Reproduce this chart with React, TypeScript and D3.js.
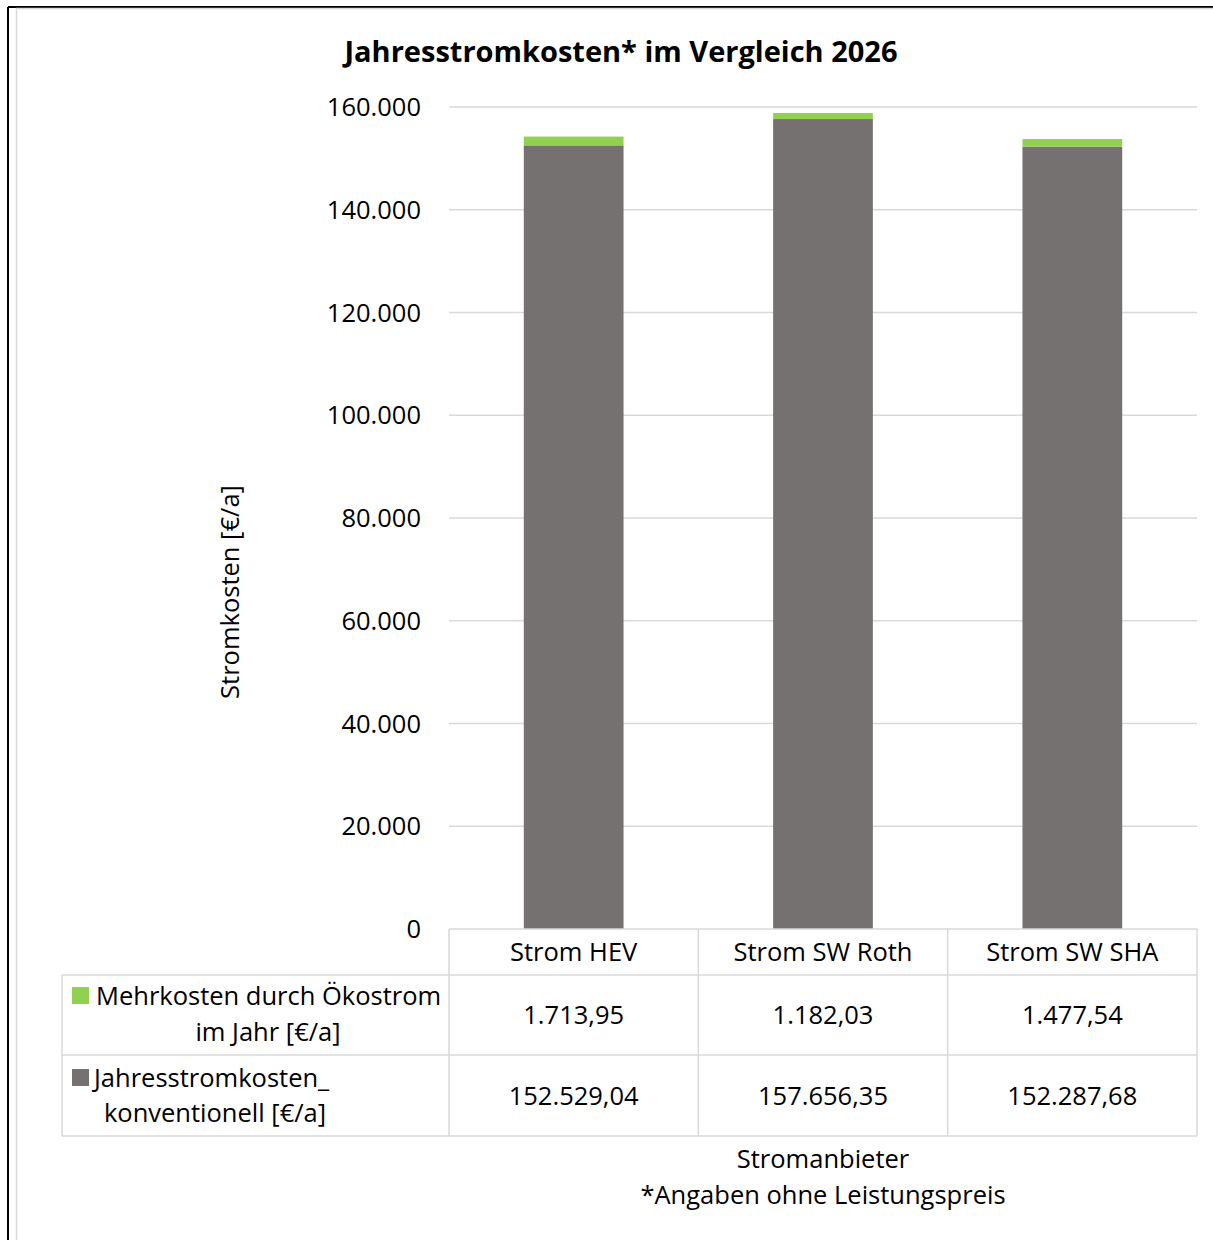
import React from "react";
import * as d3 from "d3";

const categories = ["Strom HEV", "Strom SW Roth", "Strom SW SHA"];
const seriesNames = ["Mehrkosten durch Ökostrom im Jahr [€/a]", "Jahresstromkosten_ konventionell [€/a]"];
const konventionell = [152529.04, 157656.35, 152287.68];
const mehrkosten = [1713.95, 1182.03, 1477.54];
const yTicks = [0, 20000, 40000, 60000, 80000, 100000, 120000, 140000, 160000];

const GREEN = "#92d050";
const GREY = "#767171";
const GRID = "#d9d9d9";
const FONT = "'Open Sans', 'Noto Sans', sans-serif";

const fmtTick = (v: number) => v.toLocaleString("de-DE");
const fmtVal = (v: number) =>
  v.toLocaleString("de-DE", { minimumFractionDigits: 2, maximumFractionDigits: 2 });

export default function App() {
  const W = 1213;
  const H = 1240;
  const x0 = 449, x1 = 1197;
  const yTop = 107, yBot = 929;
  const x = d3.scaleBand<string>().domain(categories).range([x0, x1]).paddingInner(0.6).paddingOuter(0.3);
  const band = d3.scaleBand<string>().domain(categories).range([x0, x1]);
  const y = d3.scaleLinear().domain([0, 160000]).range([yBot, yTop]);

  const rowTops = [929, 975, 1055, 1136];
  const legendX = 62;
  const fs = 25.5;

  return (
    <svg width={W} height={H} style={{ position: "absolute", left: 0, top: 0 }} fontFamily={FONT}>
      <rect x={0} y={0} width={W} height={H} fill="#fff" />
      {/* frames */}
      <line x1={8} y1={7} x2={W} y2={7} stroke="#000" strokeWidth={2} />
      <line x1={8} y1={7} x2={8} y2={H} stroke="#000" strokeWidth={2} />
      <rect x={16.5} y={8.5} width={W} height={H} fill="none" stroke={GRID} strokeWidth={1.5} />

      <text x={621} y={62} textAnchor="middle" fontSize={29} fontWeight="bold" fill="#000">
        Jahresstromkosten* im Vergleich 2026
      </text>

      {/* grid */}
      {yTicks.map((t) => (
        <g key={t}>
          {t > 0 && <line x1={x0} x2={x1} y1={y(t)} y2={y(t)} stroke={GRID} strokeWidth={1.5} />}
          <text x={421} y={y(t) + 9} textAnchor="end" fontSize={fs} fill="#000">
            {fmtTick(t)}
          </text>
        </g>
      ))}

      {/* bars */}
      {categories.map((c, i) => (
        <g key={c}>
          <rect x={x(c)} width={x.bandwidth()} y={y(konventionell[i])} height={y(0) - y(konventionell[i])} fill={GREY} />
          <rect
            x={x(c)}
            width={x.bandwidth()}
            y={y(konventionell[i] + mehrkosten[i])}
            height={y(konventionell[i]) - y(konventionell[i] + mehrkosten[i])}
            fill={GREEN}
          />
        </g>
      ))}

      {/* table */}
      <g stroke={GRID} strokeWidth={1.5} fill="none">
        <line x1={x0} x2={x1} y1={rowTops[0]} y2={rowTops[0]} />
        <line x1={legendX} x2={x1} y1={rowTops[1]} y2={rowTops[1]} />
        <line x1={legendX} x2={x1} y1={rowTops[2]} y2={rowTops[2]} />
        <line x1={legendX} x2={x1} y1={rowTops[3]} y2={rowTops[3]} />
        <line x1={legendX} x2={legendX} y1={rowTops[1]} y2={rowTops[3]} />
        {[...categories.map((c) => band(c) as number), x1].map((xx, i) => (
          <line key={i} x1={xx} x2={xx} y1={rowTops[0]} y2={rowTops[3]} />
        ))}
      </g>
      {categories.map((c, i) => {
        const cx = (band(c) as number) + band.bandwidth() / 2;
        return (
          <g key={c} fontSize={fs} textAnchor="middle" fill="#000">
            <text x={cx} y={961}>{c}</text>
            <text x={cx} y={1024}>{fmtVal(mehrkosten[i])}</text>
            <text x={cx} y={1105}>{fmtVal(konventionell[i])}</text>
          </g>
        );
      })}

      {/* legend cells */}
      <rect x={72} y={987} width={17} height={17} fill={GREEN} />
      <text x={96} y={1005} fontSize={fs} fill="#000">Mehrkosten durch Ökostrom</text>
      <text x={268} y={1041} fontSize={fs} fill="#000" textAnchor="middle">im Jahr [€/a]</text>
      <rect x={72} y={1069} width={17} height={17} fill={GREY} />
      <text x={94} y={1087} fontSize={fs} fill="#000">Jahresstromkosten_</text>
      <text x={215} y={1122} fontSize={fs} fill="#000" textAnchor="middle">konventionell [€/a]</text>

      {/* axis titles */}
      <text transform={`translate(239,592) rotate(-90)`} textAnchor="middle" fontSize={fs} fill="#000">
        Stromkosten [€/a]
      </text>
      <text x={823} y={1168} textAnchor="middle" fontSize={fs} fill="#000">Stromanbieter</text>
      <text x={823} y={1204} textAnchor="middle" fontSize={fs} fill="#000">*Angaben ohne Leistungspreis</text>
    </svg>
  );
}
